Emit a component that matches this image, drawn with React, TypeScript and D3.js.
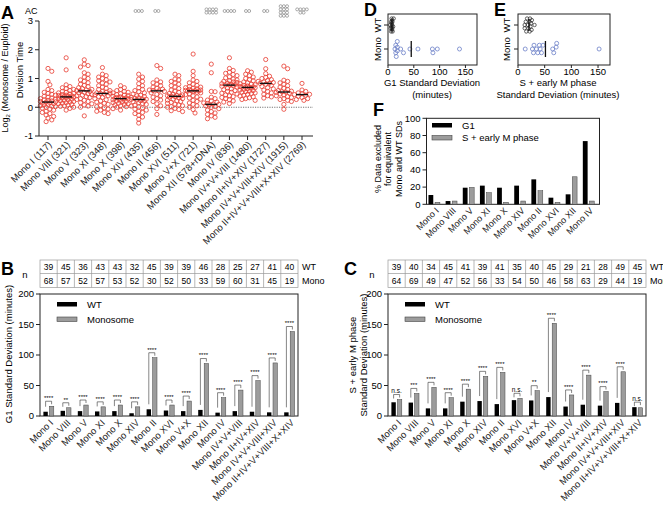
import React from "react";
import * as d3 from "d3";

const FONT = "Arial, 'Liberation Sans', Helvetica, sans-serif";

// ---- panel A: log2 division time ratios, one list per strain ----
const aCats = [
  "Mono I (117)", "Mono VIII (321)", "Mono V (323)", "Mono XI (348)", "Mono X (398)",
  "Mono XIV (435)", "Mono II (456)", "Mono XVI (511)", "Mono V+X (721)", "Mono XII (578+rDNA)",
  "Mono IV (836)", "Mono IV+V+VIII (1480)", "Mono II+IV+XIV (1727)", "Mono IV+V+VIII+XIV (1915)",
  "Mono II+IV+V+VIII+X+XIV (2769)",
];
const divMonoI = [1.35, 1.25, 0.9, 0.78, 0.62, 0.58, 0.52, 0.48, 0.45, 0.42, 0.38, 0.35, 0.32, 0.3, 0.28, 0.26, 0.24, 0.22, 0.2, 0.19, 0.18, 0.16, 0.14, 0.12, 0.1, 0.08, 0.06, 0.04, 0.02, 0.0, -0.03, -0.06, -0.1, -0.14, -0.18, -0.22, -0.27, -0.32, -0.38, -0.44, -0.5];
const divMonoVIII = [1.72, 1.3, 0.78, 0.72, 0.68, 0.65, 0.62, 0.58, 0.55, 0.52, 0.5, 0.48, 0.46, 0.44, 0.42, 0.41, 0.4, 0.39, 0.38, 0.37, 0.36, 0.35, 0.33, 0.32, 0.3, 0.28, 0.26, 0.24, 0.22, 0.2, 0.18, 0.16, 0.14, 0.12, 0.1, 0.08, 0.05, 0.03, 0.0, -0.04, -0.1];
const divMonoV = [1.65, 1.5, 1.45, 1.4, 1.2, 1.15, 1.05, 1.0, 0.95, 0.9, 0.85, 0.8, 0.76, 0.72, 0.68, 0.65, 0.62, 0.6, 0.58, 0.57, 0.55, 0.52, 0.5, 0.47, 0.44, 0.42, 0.4, 0.37, 0.34, 0.3, 0.27, 0.24, 0.2, 0.16, 0.12, 0.08, 0.04, 0.0, -0.3];
const divMonoXI = [1.38, 1.15, 1.1, 1.05, 1.0, 0.96, 0.92, 0.88, 0.84, 0.8, 0.75, 0.7, 0.66, 0.62, 0.58, 0.55, 0.52, 0.5, 0.49, 0.48, 0.46, 0.43, 0.4, 0.37, 0.34, 0.3, 0.26, 0.22, 0.18, 0.14, 0.1, 0.06, 0.02, -0.02, -0.06, -0.1, -0.14, -0.18, -0.22];
const divMonoX = [0.75, 0.68, 0.62, 0.58, 0.55, 0.52, 0.5, 0.47, 0.44, 0.42, 0.4, 0.38, 0.36, 0.34, 0.33, 0.32, 0.31, 0.3, 0.29, 0.28, 0.26, 0.24, 0.22, 0.2, 0.18, 0.16, 0.14, 0.12, 0.1, 0.08, 0.05, 0.02, 0.0, -0.05, -0.1];
const divMonoXIV = [1.15, 1.05, 0.98, 0.9, 0.82, 0.75, 0.68, 0.62, 0.58, 0.54, 0.5, 0.46, 0.42, 0.4, 0.37, 0.35, 0.33, 0.31, 0.29, 0.28, 0.27, 0.25, 0.23, 0.21, 0.19, 0.16, 0.13, 0.1, 0.07, 0.04, 0.01, -0.02, -0.06, -0.1, -0.14, -0.18, -0.22, -0.28, -0.34, -0.42, -0.55];
const divMonoII = [1.45, 1.35, 0.95, 0.88, 0.85, 0.8, 0.75, 0.7, 0.66, 0.63, 0.6, 0.58, 0.57, 0.55, 0.5, 0.45, 0.4, 0.35, 0.3, 0.25, 0.2, 0.12, 0.05, -0.05, -0.25];
const divMonoXVI = [1.15, 1.1, 0.98, 0.95, 0.9, 0.85, 0.8, 0.75, 0.7, 0.65, 0.6, 0.56, 0.52, 0.48, 0.45, 0.43, 0.41, 0.4, 0.39, 0.38, 0.37, 0.35, 0.33, 0.3, 0.28, 0.25, 0.22, 0.2, 0.17, 0.14, 0.11, 0.08, 0.05, 0.02, 0.0, -0.04, -0.08, -0.12, -0.15];
const divMonoVX = [1.85, 1.25, 1.1, 0.95, 0.9, 0.85, 0.8, 0.76, 0.72, 0.7, 0.68, 0.66, 0.64, 0.62, 0.6, 0.59, 0.58, 0.575, 0.57, 0.56, 0.54, 0.52, 0.5, 0.47, 0.44, 0.4, 0.36, 0.32, 0.28, 0.24, 0.2, 0.15, 0.1, 0.05, 0.0, -0.08, -0.2];
const divMonoXII = [1.5, 1.2, 0.55, 0.54, 0.35, 0.3, 0.25, 0.22, 0.18, 0.15, 0.13, 0.11, 0.1, 0.08, 0.05, 0.02, 0.0, -0.05, -0.1, -0.15, -0.2, -0.25, -0.3, -0.35, -0.4];
const divMonoIV = [1.72, 1.35, 1.28, 1.22, 1.18, 1.14, 1.1, 1.06, 1.02, 0.98, 0.95, 0.92, 0.9, 0.88, 0.86, 0.84, 0.82, 0.8, 0.79, 0.78, 0.77, 0.75, 0.73, 0.7, 0.67, 0.64, 0.61, 0.58, 0.55, 0.52, 0.49, 0.46, 0.43, 0.4, 0.37, 0.34, 0.3, 0.26, 0.22, 0.18, 0.13];
const divMonoIVVVIII = [1.27, 1.22, 1.15, 1.1, 1.05, 1.0, 0.96, 0.92, 0.88, 0.85, 0.82, 0.8, 0.78, 0.76, 0.74, 0.72, 0.71, 0.7, 0.695, 0.69, 0.68, 0.66, 0.64, 0.62, 0.6, 0.58, 0.56, 0.54, 0.52, 0.5, 0.48, 0.45, 0.42, 0.39, 0.36, 0.33, 0.3, 0.27, 0.24];
const divMonoIIIVXIV = [1.66, 1.34, 1.17, 1.08, 1.04, 1.0, 0.96, 0.93, 0.9, 0.88, 0.86, 0.84, 0.83, 0.8, 0.76, 0.72, 0.68, 0.64, 0.6, 0.55, 0.5, 0.45, 0.4, 0.36, 0.32];
const divMonoIVVVIIIXIV = [1.43, 1.34, 0.94, 0.9, 0.85, 0.8, 0.75, 0.7, 0.66, 0.62, 0.58, 0.56, 0.54, 0.53, 0.52, 0.49, 0.46, 0.43, 0.4, 0.37, 0.34, 0.3, 0.27, 0.24, 0.2, 0.1, -0.07];
const divMonoSix = [0.83, 0.6, 0.55, 0.5, 0.47, 0.45, 0.44, 0.42, 0.38, 0.34, 0.3, 0.27, 0.24];
const aSeries = [
  divMonoI, divMonoVIII, divMonoV, divMonoXI, divMonoX, divMonoXIV, divMonoII, divMonoXVI,
  divMonoVX, divMonoXII, divMonoIV, divMonoIVVVIII, divMonoIIIVXIV, divMonoIVVVIIIXIV, divMonoSix,
];
// arrested cells (AC) per strain
const aArrested = [0, 0, 0, 0, 0, 3, 2, 0, 0, 8, 4, 2, 2, 12, 6];

// ---- panels B, C: standard deviations ----
const sdCats = [
  "Mono I", "Mono VIII", "Mono V", "Mono XI", "Mono X", "Mono XIV", "Mono II", "Mono XVI",
  "Mono V+X", "Mono XII", "Mono IV", "Mono IV+V+VIII", "Mono II+IV+XIV",
  "Mono IV+V+VIII+XIV", "Mono II+IV+V+VIII+X+XIV",
];
const g1nWT = [39, 45, 36, 43, 43, 32, 45, 39, 39, 46, 28, 25, 27, 41, 40];
const g1nMono = [68, 57, 52, 57, 53, 52, 30, 52, 50, 33, 59, 60, 31, 45, 19];
const g1WT = [7, 8.5, 8, 7.5, 8, 4.5, 11, 9, 8, 10, 5.5, 8, 7, 6, 6];
const g1Mono = [16, 13.5, 18, 15, 18, 15, 95.5, 18, 24.5, 86, 30, 42.5, 58, 87, 138.5];
const g1Sig = ["****", "**", "****", "****", "****", "****", "****", "****", "****", "****", "****", "****", "****", "****", "****"];

const snWT = [39, 40, 34, 45, 41, 39, 41, 35, 40, 45, 29, 21, 28, 49, 45];
const snMono = [64, 69, 49, 47, 52, 56, 33, 54, 50, 46, 58, 63, 29, 44, 19];
const sWT = [22.5, 22, 12.5, 12.5, 23.5, 24.5, 19.5, 26, 25.5, 31, 15.5, 18.5, 17, 21.5, 14.5];
const sMono = [27, 37, 47, 30, 44, 65, 71.5, 29, 41.5, 152, 34.5, 67, 40, 72.5, 13.5];
const sSig = ["n.s.", "***", "****", "****", "****", "****", "****", "n.s.", "**", "****", "****", "****", "****", "****", "n.s."];

// ---- panel F: % data excluded ----
const fCats = ["Mono I", "Mono VIII", "Mono V", "Mono XI", "Mono X", "Mono XIV", "Mono II", "Mono XVI", "Mono XII", "Mono IV"];
const fG1 = [10.8, 3.8, 19.3, 21.7, 19.3, 21.7, 29, 7.7, 11.6, 73.5];
const fS = [2.3, 3.8, 19.7, 13.5, 2.3, 3.8, 15.8, 2.3, 32, 3.8];

const RED = "#e8453a";
const BLUE = "#6c80c8";
const GRAY_BAR = "#9c9c9c";

// simple beeswarm: offsets perpendicular to the value axis
function swarm(px: number[], r: number, maxOff: number): number[] {
  const order = d3.range(px.length).sort((a, b) => px[a] - px[b]);
  const placed: [number, number][] = [];
  const out = new Array(px.length).fill(0);
  const need = 2 * r * 0.85;
  for (const i of order) {
    const p = px[i];
    let best = 0;
    let bestD = -Infinity;
    for (let k = 0; k < 40; k++) {
      const off = k === 0 ? 0 : (k % 2 ? 1 : -1) * Math.ceil(k / 2) * r * 0.9;
      if (Math.abs(off) > maxOff) break;
      let minD = Infinity;
      for (const [q, o] of placed) {
        const dd = Math.hypot(q - p, o - off);
        if (dd < minD) minD = dd;
      }
      if (minD >= need) { best = off; break; }
      if (minD > bestD) { bestD = minD; best = off; }
    }
    placed.push([p, best]);
    out[i] = best;
  }
  return out;
}

const RotLabel = ({ x, y, text, size = 9 }: { x: number; y: number; text: string; size?: number }) => (
  <text transform={`translate(${x},${y}) rotate(-45)`} textAnchor="end" fontSize={size} dy="0.35em" fill="#222">
    {text}
  </text>
);

function PanelA() {
  const x = d3.scalePoint<string>().domain(aCats).range([48, 302]);
  const y = d3.scaleLinear().domain([-1, 3]).range([136, 21]);
  return (
    <g>
      <text x={1} y={19} fontSize={18} fontWeight="bold">A</text>
      <text x={25} y={13.5} fontSize={9}>AC</text>
      <line x1={39} x2={313} y1={y(0)} y2={y(0)} stroke="#777" strokeDasharray="1.2,1.2" strokeWidth={1} />
      {aCats.map((c, i) => {
        const vals = aSeries[i];
        const py = vals.map(v => y(v));
        const offs = swarm(py, 2.1, 9);
        const med = d3.median(vals) as number;
        const cx = x(c) as number;
        const n = aArrested[i];
        const perRow = n > 8 ? 3 : 4;
        const rows = Math.ceil(n / perRow);
        return (
          <g key={c}>
            {vals.map((v, j) => (
              <circle key={j} cx={cx + offs[j]} cy={py[j]} r={2.1} fill="none" stroke={RED} strokeWidth={0.85} />
            ))}
            <line x1={cx - 6} x2={cx + 6} y1={y(med)} y2={y(med)} stroke="#111" strokeWidth={1.4} />
            {d3.range(n).map(k => {
              const row = Math.floor(k / perRow);
              const inRow = Math.min(perRow, n - row * perRow);
              const col = k % perRow;
              return (
                <circle key={"ac" + k} cx={cx + (col - (inRow - 1) / 2) * 3.2} cy={11 + (row - (rows - 1) / 2) * 3.2}
                  r={1.5} fill="none" stroke="#888" strokeWidth={0.7} />
              );
            })}
          </g>
        );
      })}
      <line x1={39} x2={39} y1={21} y2={136} stroke="#222" strokeWidth={1} />
      <line x1={39} x2={313} y1={136} y2={136} stroke="#222" strokeWidth={1} />
      {y.ticks(4).map(t => (
        <g key={t}>
          <line x1={35} x2={39} y1={y(t)} y2={y(t)} stroke="#222" />
          <text x={33} y={y(t)} dy="0.35em" textAnchor="end" fontSize={9.5}>{t}</text>
        </g>
      ))}
      {aCats.map(c => (
        <g key={c}>
          <line x1={x(c)} x2={x(c)} y1={136} y2={140} stroke="#222" />
          <RotLabel x={(x(c) as number) + 2} y={143} text={c} size={9.5} />
        </g>
      ))}
      <text transform="translate(8,78) rotate(-90)" textAnchor="middle" fontSize={9}>
        Log<tspan fontSize={6} dy={2}>2</tspan><tspan dy={-2}> (Monosome / Euploid)</tspan>
      </text>
      <text transform="translate(23,70) rotate(-90)" textAnchor="middle" fontSize={9.5}>Division Time</text>
    </g>
  );
}

type SdProps = {
  left: number; right: number; letter: string; letterX: number; nX: number;
  nWT: number[]; nMono: number[]; wt: number[]; mono: number[]; sig: string[];
  yLabel: string[]; yLabelX: number[]; yLabelY: number;
};

function SdPanel(p: SdProps) {
  const x = d3.scaleBand<string>().domain(sdCats).range([p.left, p.right]);
  const y = d3.scaleLinear().domain([0, 200]).range([416, 294]);
  const bw = x.bandwidth();
  const barW = 4.4;
  return (
    <g>
      <text x={p.letterX} y={275} fontSize={18} fontWeight="bold">{p.letter}</text>
      <text x={p.nX} y={278} fontSize={9.5} textAnchor="middle">n</text>
      {/* sample size table */}
      <rect x={p.left} y={260} width={p.right - p.left} height={27.5} fill="none" stroke="#999" strokeWidth={0.7} />
      <line x1={p.left} x2={p.right} y1={273.5} y2={273.5} stroke="#999" strokeWidth={0.7} />
      {sdCats.map((c, i) => (
        <g key={c}>
          {i > 0 && <line x1={x(c)} x2={x(c)} y1={260} y2={287.5} stroke="#999" strokeWidth={0.7} />}
          <text x={(x(c) as number) + bw / 2} y={270} fontSize={8.5} textAnchor="middle">{p.nWT[i]}</text>
          <text x={(x(c) as number) + bw / 2} y={284} fontSize={8.5} textAnchor="middle">{p.nMono[i]}</text>
        </g>
      ))}
      <text x={p.right + 4} y={270} fontSize={9}>WT</text>
      <text x={p.right + 4} y={284} fontSize={9}>Mono</text>
      {/* frame */}
      <rect x={p.left} y={294} width={p.right - p.left} height={122} fill="none" stroke="#222" strokeWidth={1} />
      {y.ticks(4).map(t => (
        <g key={t}>
          <line x1={p.left - 4} x2={p.left} y1={y(t)} y2={y(t)} stroke="#222" />
          <text x={p.left - 6} y={y(t)} dy="0.35em" textAnchor="end" fontSize={9.5}>{t}</text>
        </g>
      ))}
      {/* legend */}
      <rect x={p.left + 17} y={302} width={20} height={4.5} fill="#000" />
      <text x={p.left + 47} y={307.5} fontSize={9.5}>WT</text>
      <rect x={p.left + 17} y={317} width={20} height={4.5} fill={GRAY_BAR} stroke="#444" strokeWidth={0.6} />
      <text x={p.left + 47} y={322.5} fontSize={9.5}>Monosome</text>
      {sdCats.map((c, i) => {
        const cx = (x(c) as number) + bw / 2;
        const xw = cx - 3;
        const xm = cx + 3;
        const yw = y(p.wt[i]);
        const ym = y(p.mono[i]);
        const by = Math.min(yw, ym) - 5;
        const leftEnd = Math.max(yw - 5, by + 4);
        return (
          <g key={c}>
            <rect x={xw - barW / 2} y={yw} width={barW} height={416 - yw} fill="#000" />
            <rect x={xm - barW / 2} y={ym} width={barW} height={416 - ym} fill={GRAY_BAR} stroke="#444" strokeWidth={0.5} />
            <path d={`M${xw},${leftEnd}V${by}H${xm}V${by + 3}`} fill="none" stroke="#333" strokeWidth={0.6} />
            <text x={cx} y={by - 1.2} fontSize={p.sig[i] === "n.s." ? 6.5 : 6} textAnchor="middle" fill="#000">{p.sig[i]}</text>
            <RotLabel x={cx + 3} y={421} text={c} size={9.5} />
          </g>
        );
      })}
      {p.yLabel.map((s, k) => (
        <text key={s} transform={`translate(${p.yLabelX[k]},${p.yLabelY}) rotate(-90)`} textAnchor="middle" fontSize={9.5}>{s}</text>
      ))}
    </g>
  );
}

type DotProps = {
  left: number; right: number; letter: string; letterX: number; labelX: number;
  wt: number[]; mono: number[]; title: string[]; titleX: number;
};

function DotPanel(p: DotProps) {
  const x = d3.scaleLinear().domain([0, 150]).range([p.left, p.left + (p.right - p.left) * 0.87]);
  const yWT = 25;
  const yMono = 49;
  const pwt = p.wt.map(v => x(v));
  const pmo = p.mono.map(v => x(v));
  const owt = swarm(pwt, 1.8, 7);
  const omo = swarm(pmo, 2.1, 8);
  const mWT = d3.mean(p.wt) as number;
  const mMo = d3.mean(p.mono) as number;
  return (
    <g>
      <text x={p.letterX} y={16} fontSize={18} fontWeight="bold">{p.letter}</text>
      <rect x={p.left} y={14} width={p.right - p.left} height={51} fill="none" stroke="#222" strokeWidth={1} />
      {[yWT, yMono].map(t => (
        <line key={t} x1={p.left - 4} x2={p.left} y1={t} y2={t} stroke="#222" />
      ))}
      <text transform={`translate(${p.labelX},${yWT}) rotate(-90)`} textAnchor="middle" fontSize={9.5}>WT</text>
      <text transform={`translate(${p.labelX},${yMono}) rotate(-90)`} textAnchor="middle" fontSize={9.5}>Mono</text>
      {x.ticks(3).map(t => (
        <g key={t}>
          <line x1={x(t)} x2={x(t)} y1={65} y2={68} stroke="#222" />
          <text x={x(t)} y={75} textAnchor="middle" fontSize={9.5}>{t}</text>
        </g>
      ))}
      {pwt.map((v, i) => (
        <circle key={"w" + i} cx={v} cy={yWT + owt[i]} r={1.7} fill="none" stroke="#222" strokeWidth={0.7} />
      ))}
      {pmo.map((v, i) => (
        <circle key={"m" + i} cx={v} cy={yMono + omo[i]} r={2} fill="none" stroke={BLUE} strokeWidth={0.8} />
      ))}
      <line x1={x(mWT)} x2={x(mWT)} y1={yWT - 6} y2={yWT + 6} stroke="#111" strokeWidth={1.3} />
      <line x1={x(mMo)} x2={x(mMo)} y1={yMono - 8} y2={yMono + 8} stroke="#111" strokeWidth={1.3} />
      {p.title.map((s, k) => (
        <text key={s} x={p.titleX} y={86 + k * 11.5} textAnchor="middle" fontSize={9.5}>{s}</text>
      ))}
    </g>
  );
}

function PanelF() {
  const x = d3.scaleBand<string>().domain(fCats).range([425.6, 597.1]);
  const y = d3.scaleLinear().domain([0, 100]).range([204.3, 118.3]);
  const bw = x.bandwidth();
  const barW = 4.8;
  return (
    <g>
      <text x={373} y={116} fontSize={18} fontWeight="bold">F</text>
      <rect x={426.5} y={118.3} width={173} height={86} fill="none" stroke="#222" strokeWidth={1} />
      {y.ticks(5).map(t => (
        <g key={t}>
          <line x1={422.5} x2={426.5} y1={y(t)} y2={y(t)} stroke="#222" />
          <text x={420.5} y={y(t)} dy="0.35em" textAnchor="end" fontSize={9.5}>{t}</text>
        </g>
      ))}
      {fCats.map((c, i) => {
        const cx = (x(c) as number) + bw / 2;
        return (
          <g key={c}>
            <rect x={cx - 3.3 - barW / 2} y={y(fG1[i])} width={barW} height={204.3 - y(fG1[i])} fill="#000" />
            <rect x={cx + 3.3 - barW / 2} y={y(fS[i])} width={barW} height={204.3 - y(fS[i])} fill={GRAY_BAR} stroke="#444" strokeWidth={0.5} />
            <RotLabel x={cx + 3} y={209} text={c} />
          </g>
        );
      })}
      <rect x={432} y={123} width={20} height={4.5} fill="#000" />
      <text x={462} y={128.5} fontSize={9.5}>G1</text>
      <rect x={432} y={135.5} width={20} height={4.5} fill={GRAY_BAR} stroke="#444" strokeWidth={0.6} />
      <text x={462} y={141} fontSize={9.5}>S + early M phase</text>
      {["% Data excluded", "for equivalent", "Mono and WT SDs"].map((s, k) => (
        <text key={s} transform={`translate(${381 + k * 10.3},159) rotate(-90)`} textAnchor="middle" fontSize={9}>{s}</text>
      ))}
    </g>
  );
}

export default function App() {
  return (
    <div style={{ position: "absolute", left: 0, top: 0 }}>
      <svg width={663} height={516} style={{ display: "block", background: "#fff" }} fontFamily={FONT}>
        <PanelA />
        <DotPanel left={388} right={477} letter="D" letterX={364} labelX={381} wt={g1WT} mono={g1Mono}
          title={["G1 Standard Deviation", "(minutes)"]} titleX={432} />
        <DotPanel left={518} right={610} letter="E" letterX={494} labelX={510} wt={sWT} mono={sMono}
          title={["S + early M phase", "Standard Deviation (minutes)"]} titleX={558} />
        <PanelF />
        <SdPanel left={40} right={298} letter="B" letterX={1} nX={25} nWT={g1nWT} nMono={g1nMono}
          wt={g1WT} mono={g1Mono} sig={g1Sig} yLabel={["G1 Standard Deviation (minutes)"]} yLabelX={[12]} yLabelY={354} />
        <SdPanel left={388} right={646} letter="C" letterX={344} nX={372} nWT={snWT} nMono={snMono}
          wt={sWT} mono={sMono} sig={sSig} yLabel={["S + early M phase", "Standard Deviation (minutes)"]}
          yLabelX={[356, 366.5]} yLabelY={355} />
      </svg>
    </div>
  );
}
